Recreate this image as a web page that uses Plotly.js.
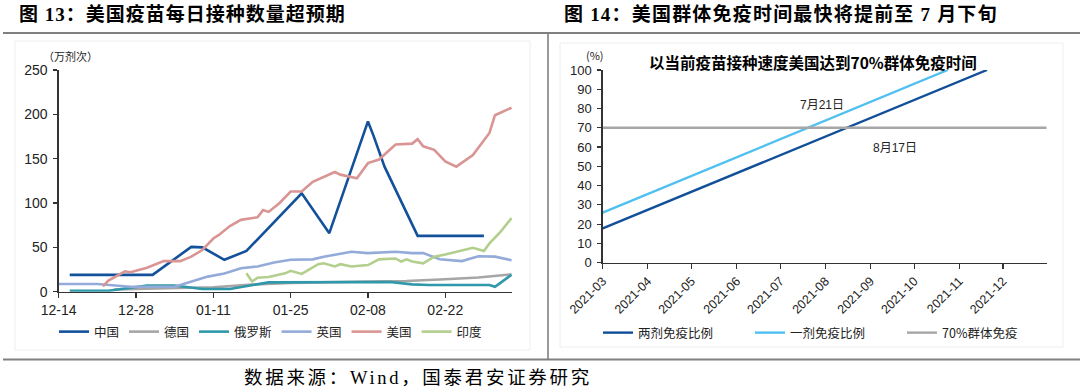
<!DOCTYPE html>
<html>
<head>
<meta charset="utf-8">
<script src="https://cdn.plot.ly/plotly-3.0.1.min.js"></script>
<style>html,body{margin:0;padding:0;background:#fff;}#chart{width:1080px;height:388px;}</style>
</head>
<body>
<div id="chart"></div>
<script>
// ---------- Figure 13 data (daily vaccinations, 10k doses) ----------
const cnDates = ['2020-12-16','2020-12-31','2021-01-07','2021-01-09','2021-01-13','2021-01-17','2021-01-27','2021-02-01','2021-02-08','2021-02-09','2021-02-11','2021-02-17','2021-03-01'];
const cnVals  = [19, 19, 50.5, 50, 36, 46, 111, 66, 192, 176, 141, 63, 63];

const deDates = ['2020-12-24','2021-01-03','2021-01-11','2021-01-18','2021-01-25','2021-02-08','2021-02-15','2021-02-22','2021-02-28','2021-03-06'];
const deVals  = [2.5, 4, 5, 8, 10, 11.5, 12, 14, 16, 19.5];

const ruDates = ['2020-12-16','2020-12-23','2020-12-30','2021-01-04','2021-01-09','2021-01-14','2021-01-21','2021-02-12','2021-02-16','2021-02-19','2021-03-02','2021-03-03','2021-03-04','2021-03-05','2021-03-06'];
const ruVals  = [1, 1, 7, 7, 3, 3, 10.5, 11, 8.3, 7.5, 7.5, 5.5, 10, 15, 19];

const ukDates = ['2020-12-14','2020-12-21','2020-12-27','2021-01-04','2021-01-10','2021-01-13','2021-01-16','2021-01-19','2021-01-22','2021-01-25','2021-01-29','2021-01-31','2021-02-05','2021-02-08','2021-02-13','2021-02-16','2021-02-18','2021-02-21','2021-02-25','2021-02-28','2021-03-03','2021-03-06'];
const ukVals  = [8.7, 8.6, 5.6, 5.5, 17, 20.5, 26.5, 28.5, 33, 36, 36.5, 39.5, 45, 43.5, 45, 43.5, 43.5, 36.5, 34.5, 40, 39.5, 35.5];

const usDates = ['2020-12-22','2020-12-23','2020-12-26','2020-12-27','2020-12-30','2021-01-02','2021-01-05','2021-01-07','2021-01-09','2021-01-11','2021-01-12','2021-01-14','2021-01-16','2021-01-19','2021-01-20','2021-01-21','2021-01-23','2021-01-25','2021-01-27','2021-01-29','2021-02-02','2021-02-03','2021-02-06','2021-02-08','2021-02-10','2021-02-13','2021-02-16','2021-02-17','2021-02-18','2021-02-20','2021-02-22','2021-02-24','2021-02-27','2021-03-02','2021-03-03','2021-03-06'];
const usVals  = [6, 12.5, 23, 22, 27, 34.5, 34.5, 39.5, 47, 60, 64, 74, 81, 84, 92, 90, 100, 113, 113, 124, 135, 132, 128, 145, 149, 166, 167, 172, 164, 160, 147, 141, 154, 179, 199, 207.5];

const inDates = ['2021-01-17','2021-01-18','2021-01-19','2021-01-21','2021-01-24','2021-01-25','2021-01-27','2021-01-30','2021-01-31','2021-02-02','2021-02-03','2021-02-05','2021-02-08','2021-02-10','2021-02-13','2021-02-14','2021-02-15','2021-02-16','2021-02-18','2021-02-20','2021-02-22','2021-02-25','2021-02-27','2021-03-01','2021-03-02','2021-03-04','2021-03-05','2021-03-06'];
const inVals  = [20.7, 11.5, 15.8, 16.5, 20.7, 23.5, 20, 31, 32, 28.5, 31, 28.5, 30, 36.5, 37.5, 34, 36.5, 34, 32, 39.5, 42, 46, 49.5, 46, 54.5, 67.5, 75, 83];

const leftNames  = ['中国','德国','俄罗斯','英国','美国','印度'];
const leftColors = ['#13519b','#a6a6a6','#2f98aa','#94abda','#d99593','#b2cf8d'];

// ---------- Figure 14 data (vaccination ratio, %) ----------
const twoDoseDates = ['2021-03-01','2021-11-20'];
const twoDoseVals  = [17.8, 100];
const oneDoseDates = ['2021-03-01','2021-10-24'];
const oneDoseVals  = [26, 100];
const herdDates = ['2021-03-01','2021-12-31'];
const herdVals  = [70, 70];
const rightNames  = ['两剂免疫比例','一剂免疫比例','70%群体免疫'];
const rightColors = ['#124f99','#4fc0ef','#a6a6a6'];

// ---------- build ----------
const W = 1080, H = 388;
const px = v => v / W;
const py = v => (H - v) / H;
const cjk = '"Noto Sans CJK SC", sans-serif';
const latin = '"Liberation Sans", Arial, "Noto Sans CJK SC", sans-serif';
const serif = '"Liberation Serif", "Times New Roman", "Noto Sans CJK SC", serif';

const leftX = [cnDates, deDates, ruDates, ukDates, usDates, inDates];
const leftY = [cnVals, deVals, ruVals, ukVals, usVals, inVals];
const traces = [];
leftNames.forEach((n, i) => {
  traces.push({type:'scatter', mode:'lines', name:n, x:leftX[i], y:leftY[i],
    xaxis:'x', yaxis:'y', legend:'legend',
    line:{color:leftColors[i], width:2.6}, hoverinfo:'skip'});
});
const rightX = [twoDoseDates, oneDoseDates, herdDates];
const rightY = [twoDoseVals, oneDoseVals, herdVals];
rightNames.forEach((n, i) => {
  traces.push({type:'scatter', mode:'lines', name:n, x:rightX[i], y:rightY[i],
    xaxis:'x2', yaxis:'y2', legend:'legend2',
    line:{color:rightColors[i], width:2.4}, hoverinfo:'skip'});
});

const axisCommon = {showgrid:false, zeroline:false, showline:true, linecolor:'#333', linewidth:1.3,
  ticks:'outside', ticklen:5, tickcolor:'#333', tickwidth:1.2,
  tickfont:{family:latin, size:14, color:'#222'}};

const layout = {
  width:W, height:H, margin:{l:0,r:0,t:0,b:0},
  paper_bgcolor:'#fff', plot_bgcolor:'rgba(0,0,0,0)', showlegend:true,
  xaxis: Object.assign({}, axisCommon, {type:'date', anchor:'y',
    domain:[px(58.7), px(512)], range:['2020-12-14','2021-03-06 02:00'],
    tick0:'2020-12-14', dtick:14*86400000, tickformat:'%m-%d'}),
  yaxis: Object.assign({}, axisCommon, {anchor:'x', domain:[py(291.7), py(70)],
    range:[0,250], dtick:50, ticklen:4, ticklabelstandoff:3}),
  xaxis2: Object.assign({}, axisCommon, {type:'date', anchor:'y2',
    domain:[px(602.7), px(1046.7)], range:['2021-03-01','2021-12-31'],
    tick0:'2021-03-01', dtick:'M1', tickformat:'%Y-%m', tickangle:-45,
    tickfont:{family:latin, size:12.5, color:'#222'}}),
  yaxis2: Object.assign({}, axisCommon, {anchor:'x2', domain:[py(262.7), py(70)],
    range:[0,100], dtick:10, ticklen:4, ticklabelstandoff:3,
    tickfont:{family:latin, size:13, color:'#222'}}),
  legend:{orientation:'h', x:px(54), xanchor:'left', y:py(332), yanchor:'middle',
    font:{family:cjk, size:12.5, color:'#222'}, bgcolor:'rgba(0,0,0,0)', itemwidth:30, tracegroupgap:0},
  legend2:{orientation:'h', x:px(598), xanchor:'left', y:py(333), yanchor:'middle',
    font:{family:cjk, size:12.5, color:'#222'}, bgcolor:'rgba(0,0,0,0)', itemwidth:30,
    entrywidth:107, entrywidthmode:'pixels'},
  shapes:[
    {type:'rect', xref:'paper', yref:'paper', x0:px(15), x1:px(530), y0:py(350), y1:py(41), line:{color:'#eeeeee', width:1}, layer:'below'},
    {type:'rect', xref:'paper', yref:'paper', x0:px(560), x1:px(1063), y0:py(347), y1:py(43), line:{color:'#eeeeee', width:1}, layer:'below'},
    {type:'line', xref:'paper', yref:'paper', x0:px(3), x1:1, y0:py(33), y1:py(33), line:{color:'#808080', width:2}},
    {type:'line', xref:'paper', yref:'paper', x0:px(3), x1:1, y0:py(359.5), y1:py(359.5), line:{color:'#808080', width:2}},
    {type:'line', xref:'paper', yref:'paper', x0:px(548), x1:px(548), y0:py(359.5), y1:py(33), line:{color:'#808080', width:1.6}}
  ],
  annotations:[
    {xref:'paper', yref:'paper', x:px(17), y:py(14), xanchor:'left', yanchor:'middle', align:'left', showarrow:false,
      text:'<b>图 13：美国疫苗每日接种数量超预期</b>', font:{family:serif, size:19, color:'#000'}},
    {xref:'paper', yref:'paper', x:px(562), y:py(14), xanchor:'left', yanchor:'middle', align:'left', showarrow:false,
      text:'<b>图 14：美国群体免疫时间最快将提前至 7 月下旬</b>', font:{family:serif, size:19, color:'#000'}},
    {xref:'paper', yref:'paper', x:px(242), y:py(378), xanchor:'left', yanchor:'middle', align:'left', showarrow:false,
      text:'数据来源：Wind，国泰君安证券研究', font:{family:serif, size:18.5, color:'#000'}},
    {xref:'paper', yref:'paper', x:px(70), y:py(56), xanchor:'center', yanchor:'middle', showarrow:false,
      text:'（万剂次）', font:{family:cjk, size:11, color:'#222'}},
    {xref:'paper', yref:'paper', x:px(595), y:py(55), xanchor:'center', yanchor:'middle', showarrow:false,
      text:'(%)', font:{family:cjk, size:11, color:'#222'}},
    {xref:'paper', yref:'paper', x:px(813), y:py(62), xanchor:'center', yanchor:'middle', showarrow:false,
      text:'<b>以当前疫苗接种速度美国达到70%群体免疫时间</b>', font:{family:cjk, size:15.5, color:'#000'}},
    {xref:'paper', yref:'paper', x:px(798), y:py(105), xanchor:'left', yanchor:'middle', showarrow:false,
      text:'7月21日', font:{family:latin, size:12, color:'#222'}},
    {xref:'paper', yref:'paper', x:px(871), y:py(148), xanchor:'left', yanchor:'middle', showarrow:false,
      text:'8月17日', font:{family:latin, size:12, color:'#222'}}
  ]
};

// letter spacing (px) for the wide-set header/footer texts, by annotation index
const spacing = {0:1.0, 1:1.2, 2:2.7};

Plotly.newPlot('chart', traces, layout, {staticPlot:true, displayModeBar:false}).then(gd => {
  const texts = gd.querySelectorAll('.annotation-text');
  Object.keys(spacing).forEach(k => {
    const t = texts[+k];
    if (t) t.style.letterSpacing = spacing[k] + 'px';
  });
});
</script>
</body>
</html>
